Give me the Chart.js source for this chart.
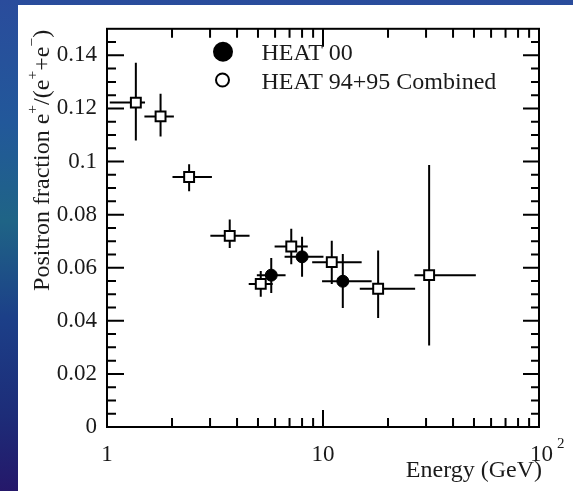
<!DOCTYPE html>
<html>
<head>
<meta charset="utf-8">
<script src="https://cdn.jsdelivr.net/npm/chart.js@4.4.1/dist/chart.umd.min.js"></script>
<style>
  html, body { margin: 0; padding: 0; width: 573px; height: 491px; overflow: hidden; }
  body {
    background: linear-gradient(to bottom, #2a4c9c 0%, #22589a 25%, #1f6486 45%, #1c3f88 65%, #1d2c78 85%, #25186a 100%);
  }
  #panel { position: absolute; left: 18px; top: 5px; width: 555px; height: 486px; background: #fff; }
</style>
</head>
<body>
<div id="panel"><canvas id="chart" width="555" height="486"></canvas></div>
<script>
const FONT = '"Liberation Serif", "DejaVu Serif", serif';

// HEAT 00 (filled)
const heat00Energy = [5.76, 8.0, 12.35];
const heat00Fraction = [0.0572, 0.0641, 0.0549];
const heat00ELow = [4.94, 6.64, 9.9];
const heat00EHigh = [6.71, 10.05, 16.8];
const heat00FLow = [0.0505, 0.0566, 0.0448];
const heat00FHigh = [0.0637, 0.0717, 0.0652];

// HEAT 94+95 Combined (open)
const heat9495Energy = [1.36, 1.77, 2.40, 3.70, 5.15, 7.13, 10.98, 18.0, 31.0];
const heat9495Fraction = [0.1222, 0.117, 0.0942, 0.072, 0.0539, 0.068, 0.0621, 0.0521, 0.0572];
const heat9495ELow = [1.03, 1.49, 2.01, 3.01, 4.53, 5.97, 8.91, 14.8, 26.5];
const heat9495EHigh = [1.5, 2.04, 3.06, 4.57, 5.85, 8.5, 15.1, 26.7, 51.0];
const heat9495FLow = [0.1079, 0.1094, 0.0888, 0.0674, 0.0491, 0.0613, 0.0539, 0.0411, 0.0307];
const heat9495FHigh = [0.1372, 0.1255, 0.099, 0.0782, 0.0588, 0.0747, 0.0702, 0.0665, 0.0987];

const xTickValues = [1, 10];
const xTickLabels = ['1', '10'];
const xMinorTicks = [2, 3, 4, 5, 6, 7, 8, 9, 20, 30, 40, 50, 60, 70, 80, 90];
const yTickValues = [0, 0.02, 0.04, 0.06, 0.08, 0.1, 0.12, 0.14];
const yTickLabels = ['0', '0.02', '0.04', '0.06', '0.08', '0.1', '0.12', '0.14'];
const yMinorTicks = [0.005, 0.01, 0.015, 0.025, 0.03, 0.035, 0.045, 0.05, 0.055, 0.065, 0.07, 0.075,
  0.085, 0.09, 0.095, 0.105, 0.11, 0.115, 0.125, 0.13, 0.135, 0.145];

function points(xs, ys, xl, xh, yl, yh) {
  return xs.map((x, i) => ({ x: x, y: ys[i], xMin: xl[i], xMax: xh[i], yMin: yl[i], yMax: yh[i] }));
}

const errorBars = {
  id: 'errorBars',
  beforeDatasetsDraw(chart) {
    const { ctx, scales: { x, y } } = chart;
    ctx.save();
    ctx.strokeStyle = '#000';
    ctx.lineWidth = 2;
    chart.data.datasets.forEach(ds => {
      ds.data.forEach(p => {
        const px = x.getPixelForValue(p.x), py = y.getPixelForValue(p.y);
        ctx.beginPath();
        ctx.moveTo(x.getPixelForValue(p.xMin), py);
        ctx.lineTo(x.getPixelForValue(p.xMax), py);
        ctx.moveTo(px, y.getPixelForValue(p.yMin));
        ctx.lineTo(px, y.getPixelForValue(p.yMax));
        ctx.stroke();
      });
    });
    ctx.restore();
  }
};

function richText(ctx, parts, size) {
  let w = 0;
  parts.forEach(p => {
    ctx.font = (p.sup ? size * 0.65 : size) + 'px ' + FONT;
    p.w = ctx.measureText(p.t).width;
    w += p.w;
  });
  return w;
}
function drawRich(ctx, parts, size, x0, y0) {
  let x = x0;
  parts.forEach(p => {
    ctx.font = (p.sup ? size * 0.65 : size) + 'px ' + FONT;
    ctx.fillText(p.t, x, p.sup ? y0 - size * 0.5 : y0);
    x += p.w;
  });
}

const frame = {
  id: 'frame',
  afterDraw(chart) {
    const { ctx, chartArea: a, scales: { x, y } } = chart;
    ctx.save();
    ctx.strokeStyle = '#000';
    ctx.lineWidth = 2;
    ctx.strokeRect(a.left, a.top, a.right - a.left, a.bottom - a.top);
    ctx.beginPath();
    xMinorTicks.forEach(v => {
      const px = x.getPixelForValue(v);
      ctx.moveTo(px, a.bottom); ctx.lineTo(px, a.bottom - 9);
      ctx.moveTo(px, a.top); ctx.lineTo(px, a.top + 9);
    });
    xTickValues.forEach(v => {
      const px = x.getPixelForValue(v);
      ctx.moveTo(px, a.bottom); ctx.lineTo(px, a.bottom - 17);
      ctx.moveTo(px, a.top); ctx.lineTo(px, a.top + 18);
    });
    yMinorTicks.forEach(v => {
      const py = y.getPixelForValue(v);
      ctx.moveTo(a.left, py); ctx.lineTo(a.left + 9, py);
      ctx.moveTo(a.right, py); ctx.lineTo(a.right - 8, py);
    });
    yTickValues.forEach(v => {
      const py = y.getPixelForValue(v);
      ctx.moveTo(a.left, py); ctx.lineTo(a.left + 17, py);
      ctx.moveTo(a.right, py); ctx.lineTo(a.right - 16, py);
    });
    ctx.stroke();

    ctx.fillStyle = '#1a1a1a';
    ctx.textBaseline = 'alphabetic';
    // 10^2 label
    const p100 = x.getPixelForValue(100);
    ctx.font = '23px ' + FONT;
    ctx.textAlign = 'left';
    ctx.fillText('10', p100 - 9, 456);
    ctx.font = '15px ' + FONT;
    ctx.fillText('2', p100 + 18, 443);

    // x title
    ctx.font = '24px ' + FONT;
    ctx.textAlign = 'right';
    ctx.fillText('Energy (GeV)', a.right + 3, 472);

    // y title
    ctx.textAlign = 'left';
    const parts = [
      { t: 'Positron fraction e' }, { t: '+', sup: true }, { t: '/(e' }, { t: '+', sup: true },
      { t: '+e' }, { t: '\u2212', sup: true }, { t: ')' }
    ];
    const w = richText(ctx, parts, 24);
    ctx.translate(30.5, a.top + 1 + w);
    ctx.rotate(-Math.PI / 2);
    drawRich(ctx, parts, 24, 0, 0);
    ctx.setTransform(1, 0, 0, 1, 0, 0);

    // legend
    const ds = chart.data.datasets;
    ctx.fillStyle = '#000';
    ctx.beginPath(); ctx.arc(205, 46.7, 10, 0, Math.PI * 2); ctx.fill();
    ctx.beginPath(); ctx.arc(204.5, 75, 6.5, 0, Math.PI * 2);
    ctx.fillStyle = '#fff'; ctx.fill(); ctx.lineWidth = 2; ctx.stroke();
    ctx.fillStyle = '#1a1a1a';
    ctx.font = '24px ' + FONT;
    ctx.fillText(ds[1].label, 243.5, 55);
    ctx.fillText(ds[0].label, 243.5, 84);
    ctx.restore();
  }
};

new Chart(document.getElementById('chart'), {
  type: 'scatter',
  data: {
    datasets: [
      {
        label: 'HEAT 94+95 Combined',
        data: points(heat9495Energy, heat9495Fraction, heat9495ELow, heat9495EHigh, heat9495FLow, heat9495FHigh),
        pointStyle: 'rect', pointRadius: 7, borderWidth: 2,
        backgroundColor: '#fff', borderColor: '#000'
      },
      {
        label: 'HEAT 00',
        data: points(heat00Energy, heat00Fraction, heat00ELow, heat00EHigh, heat00FLow, heat00FHigh),
        pointStyle: 'circle', pointRadius: 6, borderWidth: 1,
        backgroundColor: '#000', borderColor: '#000'
      }
    ]
  },
  options: {
    responsive: false,
    animation: false,
    devicePixelRatio: 1,
    layout: { padding: { top: 13, right: 34, left: 0, bottom: 0 } },
    plugins: { legend: { display: false }, tooltip: { enabled: false } },
    scales: {
      x: {
        type: 'logarithmic', min: 1, max: 100,
        afterBuildTicks: s => { s.ticks = xTickValues.map(v => ({ value: v })); },
        afterFit: s => { s.height = 64; },
        grid: { display: false, drawTicks: false },
        border: { display: false },
        ticks: {
          autoSkip: false, maxRotation: 0, padding: 14, color: '#1a1a1a',
          font: { family: FONT, size: 23 },
          callback: (v, i) => xTickLabels[i]
        }
      },
      y: {
        min: 0, max: 0.15,
        afterBuildTicks: s => { s.ticks = yTickValues.map(v => ({ value: v })); },
        afterFit: s => { s.width = 89; },
        grid: { display: false, drawTicks: false },
        border: { display: false },
        ticks: {
          padding: 10, color: '#1a1a1a',
          font: { family: FONT, size: 23 },
          callback: (v, i) => yTickLabels[i]
        }
      }
    }
  },
  plugins: [errorBars, frame]
});
</script>
</body>
</html>
